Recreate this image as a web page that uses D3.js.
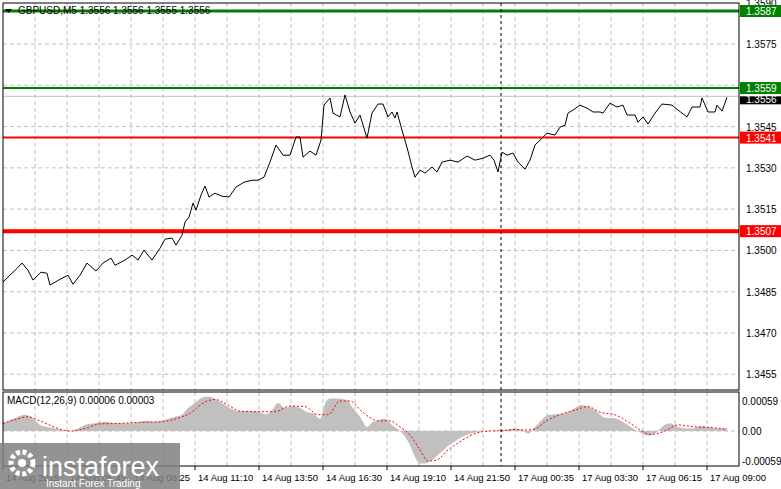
<!DOCTYPE html>
<html>
<head>
<meta charset="utf-8">
<script src="https://cdn.jsdelivr.net/npm/d3@7"></script>
<style>
body { margin: 0; background: #fff; }
text { font-family: "Liberation Sans", Arial, sans-serif; }
</style>
</head>
<body>
<svg id="chart" width="781" height="489"></svg>
<script>
// price series (bar index, close)
var priceBars = [0,2.5,7,9.5,12.5,15,19,22,23.5,28.5,32.5,35,38.5,42,46.5,50,54,56,61,64.5,67.5,70.5,74.5,78.5,81,84.5,86.5,89.5,91,93,95,96.5,99,101,103,106,109.5,113,116.5,120.5,124.5,127.5,130.5,133.5,136.5,140,143.5,146.5,148.5,150,153.5,156.5,159,160.5,163.5,165,168.5,171,173.5,176,178.5,182,184.5,187.5,190,192.5,194.5,196,197,199.5,202,204.5,206,208.5,211,214.5,217,219.5,223.5,227.5,232,236,240,243.5,245.5,247.5,249.5,252,255,257.5,261,263.5,266,269.5,272,276,278.5,281,282.5,285,288.5,292,295,298.5,300,303.5,307,310,312,316,317.5,320,322.5,326,329.5,334.5,337.5,342,344.5,348.5,349.5,352.5,356,357,359.5,362];
var priceValues = [1.34885,1.34903,1.34935,1.34954,1.34928,1.34892,1.34921,1.34917,1.34874,1.34895,1.34910,1.34877,1.34910,1.34954,1.34925,1.34954,1.34972,1.34946,1.34965,1.34983,1.34965,1.35001,1.34965,1.35008,1.35041,1.35045,1.35019,1.35055,1.35103,1.35121,1.35172,1.35146,1.35201,1.35234,1.35194,1.35208,1.35197,1.35194,1.35230,1.35248,1.35255,1.35255,1.35266,1.35321,1.35383,1.35346,1.35346,1.35412,1.35412,1.35339,1.35361,1.35346,1.35401,1.35528,1.35554,1.35499,1.35485,1.35565,1.35503,1.35463,1.35492,1.35408,1.35499,1.35532,1.35532,1.35485,1.35503,1.35481,1.35503,1.35437,1.35375,1.35303,1.35266,1.35292,1.35281,1.35303,1.35285,1.35321,1.35328,1.35321,1.35343,1.35328,1.35335,1.35346,1.35328,1.35285,1.35357,1.35346,1.35354,1.35321,1.35295,1.35328,1.35383,1.35408,1.35426,1.35419,1.35448,1.35455,1.35499,1.35510,1.35528,1.35517,1.35503,1.35503,1.35499,1.35535,1.35521,1.35528,1.35492,1.35492,1.35466,1.35485,1.35459,1.35499,1.35532,1.35528,1.35510,1.35485,1.35521,1.35521,1.35554,1.35503,1.35503,1.35528,1.35506,1.35556];

// MACD histogram and signal, in units of 0.00001
var histBars = [0,5,11,15,18.5,23.5,28.5,33.5,36,41,46,51,56,61,66,71,76,81,86,89.5,92.5,96,99.5,102.5,106,109.5,113.5,117.5,122.5,127.5,131.5,134.5,137.5,141,144.5,148.5,152,155,158.5,161.5,163.5,168.5,172,175,178.5,182,185,187.5,
  188.5,191,194.5,198.5,201,203.5,206,208.5,211,214.5,218.5,222,226,231,236,241,246,251,256,259.5,262.5,266,269.5,272.5,276,281,286,288.5,292.5,297,301,306,311,315,318.5,322.5,326,329.5,333.5,337.5,341,345,348.5,352.5,356.5,359.5,362];
var histValues = [15,24,32,25,12,7,3,0,2,12,15,18,15,15,16,20,18,22,28,32,45,55,66,68,63,55,45,39,39,38,33,41,55,45,49,45,37,35,24,58,64,64,61,45,28,8,18,20,
  22,24,12,0,-11,-28,-51,-64,-64,-57,-44,-31,-20,-9,-3,0,0,2,5,2,-5,8,22,32,33,35,45,51,48,38,26,25,15,5,-3,-9,-5,8,15,8,5,5,10,8,5,5,6];
var signalBars = [0,6,12.5,18.5,26,33.5,41,48.5,58.5,68.5,78.5,87.5,93.5,101,106,112.5,118.5,128.5,136,143.5,151,157.5,162.5,168.5,173.5,179.5,
  187.5,193.5,198.5,203.5,208.5,212.5,217,222,228.5,236,243.5,251,256,261,266,271,278.5,286,292.5,298.5,306,312.5,318.5,323.5,331,337.5,346,353.5,362];
var signalValues = [15,22,28,20,7,0,5,14,15,17,18,25,35,57,62,51,39,38,38,49,48,32,32,59,59,38,
  20,20,8,-8,-37,-59,-57,-39,-21,-5,0,1,3,2,4,18,32,41,48,37,32,18,2,-7,0,12,8,7,3];

var priceTicks = [1.3590,1.3575,1.3560,1.3545,1.3530,1.3515,1.3500,1.3485,1.3470,1.3455];
var timeLabels = ["14 Aug 2025","14 Aug 05:45","14 Aug 08:25","14 Aug 11:10","14 Aug 13:50","14 Aug 16:30","14 Aug 19:10","14 Aug 21:50","17 Aug 00:35","17 Aug 03:30","17 Aug 06:15","17 Aug 09:00"];
var levels = [
  { price: 1.3587, color: "#008000", width: 3 },
  { price: 1.3559, color: "#008000", width: 2 },
  { price: 1.3541, color: "#ff0000", width: 2 },
  { price: 1.3507, color: "#ff0000", width: 4 }
];
var lastPrice = 1.3556;
var sessionBar = 249;

// layout
var left = 3, right = 739, mainTop = 3, mainBottom = 390, macdTop = 392, macdBottom = 466;
var gridColor = "#c0c0c0";

var svg = d3.select("#chart");
var x = d3.scaleLinear().domain([0, 368]).range([left, right]);
var y = d3.scaleLinear().domain([1.3455, 1.3590]).range([374.25, 2.75]);
var ym = d3.scaleLinear().domain([-59, 59]).range([461, 401]);

// grid
var gridBars = d3.range(16, 368, 16);
svg.append("g").selectAll("line").data(gridBars).enter().append("line")
  .attr("x1", d => x(d)).attr("x2", d => x(d))
  .attr("y1", mainTop).attr("y2", mainBottom)
  .attr("stroke", gridColor).attr("stroke-dasharray", "4,3");
svg.append("g").selectAll("line").data(gridBars).enter().append("line")
  .attr("x1", d => x(d)).attr("x2", d => x(d))
  .attr("y1", macdTop).attr("y2", macdBottom)
  .attr("stroke", gridColor).attr("stroke-dasharray", "4,3");
svg.append("g").selectAll("line").data(priceTicks.slice(1)).enter().append("line")
  .attr("x1", left).attr("x2", right)
  .attr("y1", d => y(d)).attr("y2", d => y(d))
  .attr("stroke", gridColor).attr("stroke-dasharray", "4,3");
svg.append("line").attr("x1", left).attr("x2", right)
  .attr("y1", ym(0)).attr("y2", ym(0))
  .attr("stroke", gridColor).attr("stroke-dasharray", "4,3");

// price tick labels (the one under the level boxes stays hidden)
svg.append("g").selectAll("text").data(priceTicks.filter(d => d !== 1.3560)).enter().append("text")
  .attr("x", 746).attr("y", d => y(d) + 4)
  .attr("font-size", 10).attr("fill", "#000")
  .text(d => d.toFixed(4));

// current price line
svg.append("line").attr("x1", left).attr("x2", right)
  .attr("y1", y(lastPrice)).attr("y2", y(lastPrice)).attr("stroke", "#c0c0c0");

// MACD histogram
var hist = histBars.map((b, i) => [b, histValues[i]]);
svg.append("path").datum(hist)
  .attr("d", d3.area().curve(d3.curveMonotoneX).x(d => x(d[0])).y0(ym(0)).y1(d => ym(d[1])))
  .attr("fill", "#c0c0c0");
var sig = signalBars.map((b, i) => [b, signalValues[i]]);
svg.append("path").datum(sig)
  .attr("d", d3.line().curve(d3.curveMonotoneX).x(d => x(d[0])).y(d => ym(d[1])))
  .attr("fill", "none").attr("stroke", "#ff0000").attr("stroke-dasharray", "2,2");
svg.append("g").selectAll("text").data([59, 0, -59]).enter().append("text")
  .attr("x", 742).attr("y", d => ym(d) + 4)
  .attr("font-size", 10).text(d => d === 0 ? "0.00" : (d < 0 ? "-" : "") + "0.00059");
svg.append("text").attr("x", 7).attr("y", 404).attr("font-size", 10)
  .text("MACD(12,26,9) 0.00006 0.00003");

// levels
levels.forEach(function (l) {
  svg.append("line").attr("x1", left).attr("x2", right)
    .attr("y1", y(l.price)).attr("y2", y(l.price))
    .attr("stroke", l.color).attr("stroke-width", l.width);
});

// price line
var pts = priceBars.map((b, i) => [b, priceValues[i]]);
svg.append("path").datum(pts)
  .attr("d", d3.line().x(d => x(d[0])).y(d => y(d[1])))
  .attr("fill", "none").attr("stroke", "#000").attr("stroke-width", 1);

// session separator
svg.append("line").attr("x1", x(sessionBar)).attr("x2", x(sessionBar))
  .attr("y1", mainTop).attr("y2", macdBottom)
  .attr("stroke", "#000").attr("stroke-dasharray", "3,3");

// level boxes on the axis
levels.forEach(function (l) {
  svg.append("rect").attr("x", 740).attr("y", y(l.price) - 6).attr("width", 41).attr("height", 12).attr("fill", l.color);
  svg.append("text").attr("x", 746).attr("y", y(l.price) + 4).attr("font-size", 10).attr("fill", "#fff").text(l.price.toFixed(4));
});
svg.append("rect").attr("x", 740).attr("y", y(lastPrice)).attr("width", 41).attr("height", 8).attr("fill", "#000");
svg.append("text").attr("x", 746).attr("y", y(lastPrice) + 7).attr("font-size", 10).attr("fill", "#fff").text(lastPrice.toFixed(4));

// panel frames
svg.append("rect").attr("x", left).attr("y", mainTop).attr("width", right - left).attr("height", mainBottom - mainTop)
  .attr("fill", "none").attr("stroke", "#000");
svg.append("rect").attr("x", left).attr("y", macdTop).attr("width", right - left).attr("height", macdBottom - macdTop)
  .attr("fill", "none").attr("stroke", "#000");

// title
svg.append("path").attr("d", "M5,9 L12,9 L8.5,13 Z").attr("fill", "#000");
svg.append("text").attr("x", 18).attr("y", 14).attr("font-size", 10).text("GBPUSD,M5  1.3556 1.3556 1.3555 1.3556");

// time axis
var tg = svg.append("g").selectAll("g").data(timeLabels).enter().append("g")
  .attr("transform", (d, i) => `translate(${x(i * 32)},${macdBottom})`);
tg.append("line").attr("y2", 4).attr("stroke", "#000");
tg.append("text").attr("x", 3).attr("y", 15).attr("font-size", 9.5).text(d => d);

// watermark
var wm = svg.append("g");
wm.append("rect").attr("x", 0).attr("y", 443).attr("width", 180).attr("height", 46).attr("fill", "#808080").attr("opacity", 0.85);
wm.append("circle").attr("cx", 22).attr("cy", 463).attr("r", 11).attr("fill", "none").attr("stroke", "#fff").attr("stroke-width", 5).attr("stroke-dasharray", "4,2.5");
wm.append("circle").attr("cx", 22).attr("cy", 463).attr("r", 4).attr("fill", "#fff");
wm.append("text").attr("x", 42).attr("y", 476).attr("font-size", 27).attr("font-family", "Lato, sans-serif").attr("fill", "#fff").text("instaforex");
wm.append("text").attr("x", 46).attr("y", 487).attr("font-size", 10).attr("fill", "#fff").text("Instant Forex Trading");
</script>
</body>
</html>
